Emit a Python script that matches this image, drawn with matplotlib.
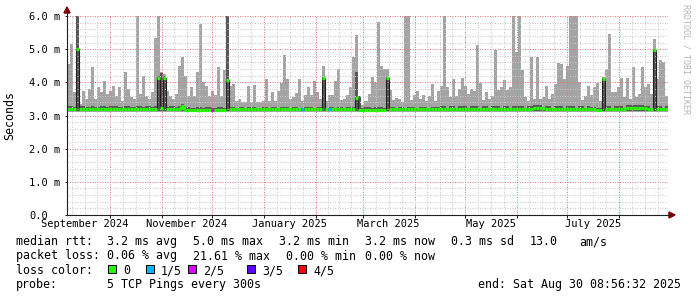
import numpy as np
import pandas as pd
import matplotlib
matplotlib.use("Agg")
import matplotlib.pyplot as plt
import matplotlib.dates as mdates
from matplotlib.collections import LineCollection
from matplotlib.lines import Line2D
from matplotlib.patches import Polygon, Rectangle
from matplotlib.ticker import MultipleLocator

plt.rcParams['font.family'] = ['DejaVu Sans Mono']

# time span of the graph (last ~360 days), 200 consolidated steps
start = pd.Timestamp("2024-09-05 08:56:32")
end = pd.Timestamp("2025-08-30 08:56:32")

# highest ping of each step (light smoke top), ms
smoke_max = [
    4.55, 5.15, 3.70, 6.00, 3.35, 3.75, 3.50, 3.80, 4.45, 3.50,
    3.85, 3.70, 4.05, 3.65, 3.75, 3.90, 3.60, 3.85, 3.45, 4.30,
    3.80, 3.55, 3.50, 6.00, 3.65, 4.20, 3.60, 3.50, 3.70, 5.35,
    6.00, 4.30, 4.25, 3.75, 3.60, 3.50, 3.65, 4.50, 4.75, 4.20,
    3.60, 3.85, 3.60, 4.30, 5.75, 4.00, 3.90, 3.60, 3.75, 3.62,
    4.47, 3.60, 4.37, 6.00, 3.90, 3.95, 3.45, 3.50, 3.42, 3.42,
    3.90, 3.42, 3.93, 3.42, 3.40, 3.45, 4.10, 3.45, 3.70, 3.45,
    3.75, 3.98, 4.82, 4.10, 3.50, 3.55, 3.67, 4.10, 3.45, 3.62,
    3.85, 3.62, 4.05, 3.70, 3.50, 4.50, 3.45, 3.62, 3.62, 4.05,
    4.40, 3.48, 3.50, 3.62, 3.85, 4.77, 5.42, 3.35, 3.32, 3.45,
    3.65, 4.17, 4.00, 5.82, 4.50, 4.40, 4.40, 3.78, 3.47, 3.52,
    3.50, 3.42, 6.00, 6.00, 3.47, 3.62, 3.75, 3.50, 3.62, 3.45,
    3.60, 3.95, 3.45, 3.75, 3.88, 6.00, 3.85, 3.55, 4.10, 3.60,
    3.80, 4.12, 3.90, 3.65, 3.80, 3.75, 5.12, 3.98, 3.47, 3.70,
    3.50, 3.60, 4.97, 3.78, 3.85, 4.07, 3.78, 3.85, 6.00, 4.90,
    6.00, 4.37, 3.55, 3.45, 4.75, 3.50, 4.75, 3.50, 3.55, 3.88,
    3.50, 3.65, 3.95, 4.57, 4.55, 4.10, 4.50, 6.00, 6.00, 6.00,
    4.00, 3.47, 3.60, 3.88, 3.63, 3.85, 3.98, 3.45, 4.15, 4.40,
    5.45, 3.70, 3.70, 3.85, 4.12, 3.55, 4.12, 3.50, 4.47, 3.55,
    3.65, 4.47, 3.85, 3.95, 3.65, 5.32, 4.10, 4.67, 4.60, 3.60,
]

# 4th of 5 sorted pings (dark smoke top), ms
smoke_inner = [
    3.28, 3.28, 3.25, 6.00, 3.28, 3.28, 3.25, 3.25, 3.28, 3.25,
    3.25, 3.28, 3.28, 3.25, 3.28, 3.28, 3.28, 3.25, 3.25, 3.28,
    3.28, 3.25, 3.25, 3.28, 3.28, 3.25, 3.28, 3.28, 3.25, 3.28,
    4.20, 4.27, 4.20, 3.25, 3.28, 3.28, 3.25, 3.28, 3.36, 3.25,
    3.25, 3.24, 3.24, 3.25, 3.25, 3.24, 3.25, 3.25, 3.24, 3.24,
    3.25, 3.25, 3.24, 6.00, 3.27, 3.27, 3.23, 3.27, 3.27, 3.23,
    3.27, 3.27, 3.27, 3.23, 3.23, 3.27, 3.27, 3.23, 3.27, 3.27,
    3.23, 3.27, 3.27, 3.27, 3.23, 3.27, 3.27, 3.23, 3.23, 3.27,
    3.27, 3.27, 3.23, 3.27, 3.27, 4.15, 3.23, 3.27, 3.27, 3.23,
    3.27, 3.27, 3.23, 3.27, 3.27, 3.27, 4.30, 3.60, 3.23, 3.26,
    3.26, 3.23, 3.26, 3.26, 3.26, 3.23, 4.15, 3.26, 3.26, 3.23,
    3.26, 3.26, 3.23, 3.26, 3.27, 3.27, 3.23, 3.27, 3.27, 3.27,
    3.23, 3.27, 3.27, 3.27, 3.28, 3.29, 3.24, 3.29, 3.29, 3.24,
    3.29, 3.29, 3.29, 3.24, 3.29, 3.29, 3.29, 3.24, 3.29, 3.29,
    3.24, 3.29, 3.29, 3.29, 3.24, 3.29, 3.29, 3.24, 3.29, 3.29,
    3.28, 3.28, 3.24, 3.28, 3.28, 3.31, 3.31, 3.31, 3.27, 3.28,
    3.28, 3.24, 3.28, 3.28, 3.28, 3.24, 3.28, 3.28, 3.28, 3.24,
    3.28, 3.28, 3.24, 3.28, 3.27, 3.27, 3.24, 3.24, 4.12, 3.28,
    3.28, 3.24, 3.28, 3.28, 3.28, 3.24, 3.32, 3.32, 3.32, 3.32,
    3.32, 3.32, 3.30, 3.28, 3.24, 5.00, 3.28, 3.28, 3.24, 3.28,
]

# median rtt of each step, ms
median = [
    3.21, 3.21, 3.21, 5.00, 3.21, 3.21, 3.21, 3.21, 3.21, 3.21,
    3.21, 3.21, 3.21, 3.21, 3.21, 3.21, 3.21, 3.21, 3.21, 3.21,
    3.21, 3.21, 3.21, 3.21, 3.21, 3.21, 3.21, 3.21, 3.21, 3.21,
    4.12, 3.22, 4.12, 3.21, 3.21, 3.21, 3.21, 3.21, 3.30, 3.18,
    3.17, 3.17, 3.17, 3.17, 3.17, 3.17, 3.17, 3.17, 3.17, 3.17,
    3.17, 3.18, 3.18, 4.07, 3.19, 3.19, 3.19, 3.19, 3.19, 3.19,
    3.19, 3.19, 3.19, 3.19, 3.19, 3.19, 3.19, 3.19, 3.19, 3.19,
    3.19, 3.19, 3.19, 3.19, 3.19, 3.19, 3.19, 3.19, 3.19, 3.19,
    3.19, 3.19, 3.19, 3.19, 3.19, 4.12, 3.19, 3.19, 3.19, 3.19,
    3.19, 3.19, 3.19, 3.19, 3.19, 3.19, 3.52, 3.18, 3.18, 3.18,
    3.18, 3.18, 3.18, 3.18, 3.18, 3.18, 4.12, 3.19, 3.19, 3.19,
    3.19, 3.19, 3.19, 3.19, 3.19, 3.19, 3.19, 3.19, 3.19, 3.19,
    3.19, 3.19, 3.19, 3.19, 3.20, 3.21, 3.21, 3.21, 3.21, 3.21,
    3.21, 3.21, 3.21, 3.21, 3.21, 3.21, 3.21, 3.21, 3.21, 3.21,
    3.21, 3.21, 3.21, 3.21, 3.21, 3.21, 3.21, 3.21, 3.21, 3.21,
    3.20, 3.20, 3.20, 3.20, 3.20, 3.23, 3.23, 3.23, 3.23, 3.20,
    3.20, 3.20, 3.20, 3.20, 3.20, 3.20, 3.20, 3.20, 3.20, 3.20,
    3.20, 3.20, 3.20, 3.20, 3.19, 3.19, 3.18, 3.17, 4.10, 3.20,
    3.20, 3.20, 3.20, 3.20, 3.20, 3.20, 3.24, 3.24, 3.24, 3.24,
    3.24, 3.24, 3.22, 3.20, 3.20, 4.97, 3.20, 3.20, 3.20, 3.20,
]

smoke_floor = 3.10   # lowest ping
inner_floor = 3.15   # 2nd lowest ping

# steps with packet loss (step index, lost pings out of 5)
loss_steps = [48, 78, 87]
loss_counts = [2, 1, 1]

loss_labels = ["0", "1/5", "2/5", "3/5", "4/5"]
loss_colors = ["#26ff00", "#00b8ff", "#dd00ff", "#5e00ff", "#ff0000"]

label_months = ["2024-09", "2024-11", "2025-01", "2025-03", "2025-05", "2025-07"]
y_labels = ["0.0", "1.0 m", "2.0 m", "3.0 m", "4.0 m", "5.0 m", "6.0 m"]

W, H = 697, 297
fig = plt.figure(figsize=(W / 100, H / 100), dpi=100)
fig.patch.set_facecolor("white")
ax = fig.add_axes([67 / W, 82 / H, 601 / W, 199 / H])

n = len(median)
t0, t1 = mdates.date2num(start), mdates.date2num(end)
edges = np.linspace(t0, t1, n + 1)

ax.stairs(smoke_max, edges, baseline=smoke_floor, fill=True, color="#a4a4a4", zorder=1)
ax.stairs(smoke_inner, edges, baseline=inner_floor, fill=True, color="#585858", zorder=1.1)
ax.stairs(median, edges, baseline=None, color="#202020", lw=0.8, zorder=3)

loss = np.zeros(n, dtype=int)
loss[loss_steps] = loss_counts
segs, cols = [], []
for i in range(n):
    c = loss_colors[loss[i]]
    segs.append([(edges[i], median[i]), (edges[i + 1], median[i])])
    cols.append(c)
    if i + 1 < n and abs(median[i + 1] - median[i]) < 0.15:
        segs.append([(edges[i + 1], median[i]), (edges[i + 1], median[i + 1])])
        cols.append(c)
ax.add_collection(LineCollection(segs, colors=cols, linewidths=2.3, capstyle="butt", zorder=4))

ax.set_xlim(t0, t1)
ax.set_ylim(0, 6)

# grid: months (major), quarter months (minor)
months = pd.date_range("2024-09-01", "2025-09-01", freq="MS")
major = [mdates.date2num(m) for m in months if start < m < end]
minor_pos, minor_lab = [], []
for a, b in zip(months[:-1], months[1:]):
    for k in (1, 2, 3):
        t = a + (b - a) * k / 4
        if start < t < end:
            minor_pos.append(mdates.date2num(t))
            minor_lab.append(a.strftime("%B %Y") if k == 2 and a.strftime("%Y-%m") in label_months else "")
ax.set_xticks(major)
ax.set_xticklabels([])
ax.set_xticks(minor_pos, minor=True)
ax.set_xticklabels(minor_lab, minor=True, fontsize=7.5)

ax.set_yticks(range(7))
ax.set_yticklabels(y_labels, fontsize=7.5, ha="left")
ax.yaxis.set_minor_locator(MultipleLocator(0.2))

dots = (0, (1, 1.5))
ax.set_axisbelow(False)
ax.grid(which="major", color="#e07878", lw=0.72, ls=dots)
ax.grid(which="minor", color="#c8c8c8", lw=0.72, ls=dots)

ax.tick_params(axis="x", which="major", length=2, width=0.72, color="#202020")
ax.tick_params(axis="x", which="minor", length=0, pad=3)
ax.tick_params(axis="y", which="major", length=1.5, width=0.72, pad=25.9, color="#202020")
ax.tick_params(axis="y", which="minor", length=0)

for s in ("top", "right"):
    ax.spines[s].set_visible(False)
for s in ("left", "bottom"):
    ax.spines[s].set_color("#202020")
    ax.spines[s].set_linewidth(0.8)
    ax.spines[s].set_zorder(5)


def px(x, y):
    return (x / W, 1 - y / H)


# axis extension and arrows
fig.add_artist(Line2D([67 / W, 67 / W], [1 - 16 / H, 1 - 11 / H], color="#202020", lw=0.8))
fig.add_artist(Polygon([px(64, 13), px(70, 13), px(67, 7)], closed=True, color="#7f0000"))
fig.add_artist(Line2D([668 / W, 670 / W], [1 - 215 / H, 1 - 215 / H], color="#202020", lw=0.8))
fig.add_artist(Polygon([px(669, 212), px(669, 218), px(675, 215)], closed=True, color="#7f0000"))

fig.text(10 / W, 1 - 115 / H, "Seconds", rotation=90, ha="center", va="center", fontsize=8.4)
fig.text(686 / W, 1 - 4 / H, "RRDTOOL / TOBI OETIKER", rotation=270, ha="center", va="top",
         fontsize=6, color="#b4b4b4")

fs = 8.4
rows = [245.2, 259.5, 274.0, 288.4]
row1 = [(16, "median rtt:"), (107, "3.2 ms avg"), (193, "5.0 ms max"), (279, "3.2 ms min"),
        (365, "3.2 ms now"), (451, "0.3 ms sd"), (530, "13.0"), (579, "am/s")]
row2 = [(16, "packet loss:"), (107, "0.06 % avg"), (193, "21.61 % max"), (286, "0.00 % min"),
        (365, "0.00 % now")]
row4 = [(16, "probe:"), (107, "5 TCP Pings every 300s"), (478, "end: Sat Aug 30 08:56:32 2025")]
for y, row in ((rows[0], row1), (rows[1], row2), (rows[3], row4)):
    for x, s in row:
        fig.text(x / W, 1 - y / H, s, ha="left", va="baseline", fontsize=fs)

fig.text(16 / W, 1 - rows[2] / H, "loss color:", ha="left", va="baseline", fontsize=fs)
box_x = [108, 146, 188, 247, 298]
for bx, lab, col in zip(box_x, loss_labels, loss_colors):
    fig.add_artist(Rectangle(px(bx, 273), 8 / W, 8 / H, facecolor=col, edgecolor="black", lw=0.72))
    fig.text((bx + 15) / W, 1 - rows[2] / H, lab, ha="left", va="baseline", fontsize=fs)

fig.savefig("out.png", dpi=100, facecolor="white")
